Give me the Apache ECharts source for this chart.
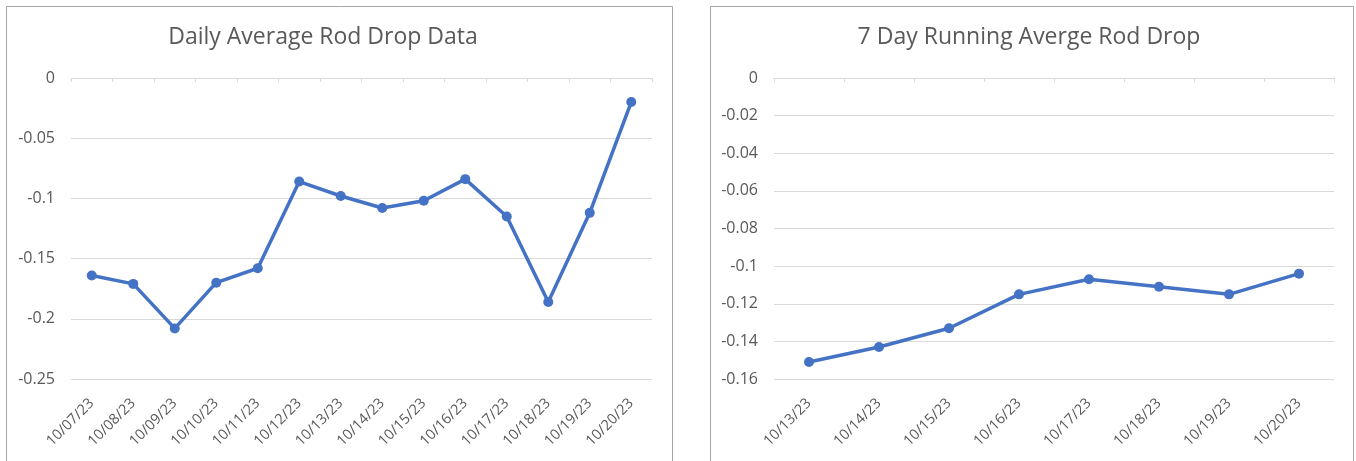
<!DOCTYPE html>
<html>
<head>
<meta charset="utf-8">
<style>
  html, body { margin: 0; padding: 0; background: #ffffff; }
  #chart { width: 1356px; height: 461px; }
</style>
<script src="https://cdn.jsdelivr.net/npm/echarts@6/dist/echarts.min.js"></script>
</head>
<body>
<div id="chart"></div>
<script>
// Daily average rod drop, one value per day
const dailyDates = ['10/07/23', '10/08/23', '10/09/23', '10/10/23', '10/11/23', '10/12/23', '10/13/23',
                    '10/14/23', '10/15/23', '10/16/23', '10/17/23', '10/18/23', '10/19/23', '10/20/23'];
const dailyValues = [-0.164, -0.171, -0.208, -0.170, -0.158, -0.086, -0.098,
                     -0.108, -0.102, -0.084, -0.115, -0.186, -0.112, -0.020];

// 7 day running average of the daily values
const runningDates = ['10/13/23', '10/14/23', '10/15/23', '10/16/23', '10/17/23', '10/18/23', '10/19/23', '10/20/23'];
const runningValues = [-0.151, -0.143, -0.133, -0.115, -0.107, -0.111, -0.115, -0.104];

// Value axis ranges
const dailyAxis = { min: -0.25, max: 0, interval: 0.05 };
const runningAxis = { min: -0.16, max: 0, interval: 0.02 };

const titles = ['Daily Average Rod Drop Data', '7 Day Running Averge Rod Drop'];

const FONT = '"Open Sans", "Noto Sans", sans-serif';
const TEXT = '#595959';
const GRID_LINE = '#d9d9d9';
const LINE = '#4472c4';

const grids = [
  { left: 71, top: 78, width: 581, height: 301 },
  { left: 774, top: 78, width: 560, height: 301 }
];

function labelAxis(gridIndex, cats) {
  return {
    type: 'category', gridIndex, position: 'bottom', data: cats, boundaryGap: true,
    axisLine: { show: false }, axisTick: { show: false }, splitLine: { show: false },
    axisLabel: { rotate: 45, margin: 22, color: TEXT, fontFamily: FONT,
                 fontSize: 14.5, interval: 0 }
  };
}
function zeroAxis(gridIndex, cats) {
  return {
    type: 'category', gridIndex, position: 'top', data: cats, boundaryGap: true,
    axisLine: { show: true, lineStyle: { color: GRID_LINE, width: 1 } },
    axisTick: { show: true, inside: true, length: 4, interval: 0, lineStyle: { color: GRID_LINE } },
    axisLabel: { show: false }, splitLine: { show: false }
  };
}
function valueAxis(gridIndex, range) {
  return {
    type: 'value', gridIndex, min: range.min, max: range.max, interval: range.interval,
    axisLine: { show: false }, axisTick: { show: false },
    splitLine: { show: true, lineStyle: { color: GRID_LINE, width: 1 } },
    axisLabel: { color: TEXT, fontFamily: FONT, fontSize: 16, margin: 16 }
  };
}
function lineSeries(xIndex, yIndex, values) {
  return {
    type: 'line', xAxisIndex: xIndex, yAxisIndex: yIndex, data: values,
    symbol: 'circle', symbolSize: 10, showSymbol: true,
    lineStyle: { color: LINE, width: 3.5 },
    itemStyle: { color: LINE },
    animation: false
  };
}

const chart = echarts.init(document.getElementById('chart'), null, { renderer: 'canvas' });
chart.setOption({
  animation: false,
  title: [
    { text: titles[0], left: 318, top: 21, textAlign: 'center',
      textStyle: { color: TEXT, fontFamily: FONT, fontSize: 23, fontWeight: 'normal' } },
    { text: titles[1], left: 1024, top: 21, textAlign: 'center',
      textStyle: { color: TEXT, fontFamily: FONT, fontSize: 23, fontWeight: 'normal' } }
  ],
  grid: grids,
  xAxis: [
    labelAxis(0, dailyDates), zeroAxis(0, dailyDates),
    labelAxis(1, runningDates), zeroAxis(1, runningDates)
  ],
  yAxis: [valueAxis(0, dailyAxis), valueAxis(1, runningAxis)],
  series: [
    lineSeries(0, 0, dailyValues),
    lineSeries(2, 1, runningValues)
  ],
  graphic: [
    { type: 'rect', shape: { x: 6.5, y: 6.5, width: 666, height: 480 },
      style: { fill: 'none', stroke: '#a6a6a6', lineWidth: 1 }, silent: true },
    { type: 'rect', shape: { x: 710.5, y: 6.5, width: 643, height: 480 },
      style: { fill: 'none', stroke: '#a6a6a6', lineWidth: 1 }, silent: true }
  ]
});
</script>
</body>
</html>
